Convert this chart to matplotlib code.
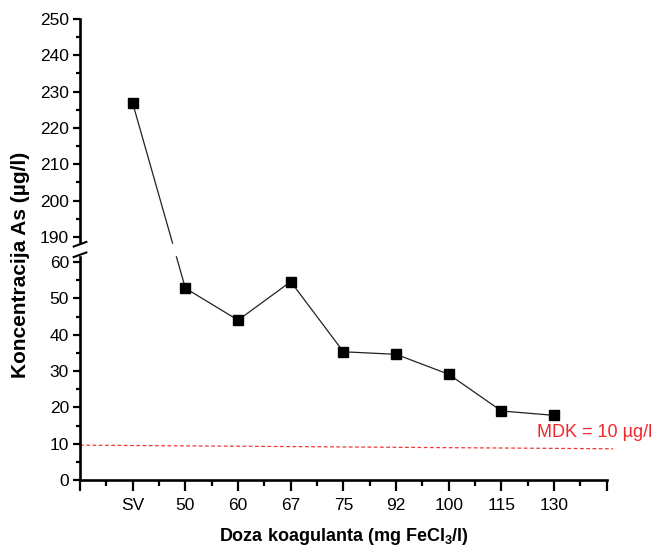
import numpy as np
import matplotlib
matplotlib.use("Agg")
import matplotlib.pyplot as plt
from matplotlib.ticker import FixedLocator, NullFormatter

plt.rcParams['font.family'] = ['Liberation Sans', 'DejaVu Sans']

# data
doses = ["SV", "50", "60", "67", "75", "92", "100", "115", "130"]
conc = [226.8, 52.8, 44.0, 54.6, 35.3, 34.6, 29.1, 19.0, 17.8]
mdk_label = "MDK = 10 µg/l"
mdk_x = [-1, 9.12]
mdk_y = [9.6, 8.6]

# broken y axis: 0-62 and 188-250, small gap between
lo_top, hi_bot, gap = 62.0, 188.0, 2.9


def fwd(y):
    y = np.asarray(y, dtype=float)
    mid = lo_top + (y - lo_top) / (hi_bot - lo_top) * gap
    return np.where(y <= lo_top, y, np.where(y >= hi_bot, y - hi_bot + lo_top + gap, mid))


def inv(t):
    t = np.asarray(t, dtype=float)
    mid = lo_top + (t - lo_top) / gap * (hi_bot - lo_top)
    return np.where(t <= lo_top, t, np.where(t >= lo_top + gap, t - lo_top - gap + hi_bot, mid))


fig = plt.figure(figsize=(6.56, 5.52), dpi=100)
ax = fig.add_axes([0.122, 0.1304, 0.803, 0.8352])
ax.set_yscale('function', functions=(fwd, inv))

x = np.arange(len(doses))
ax.plot(x, conc, color='#222222', lw=0.9, marker='s', ms=6.8,
        mfc='black', mec='black', zorder=2)

ax.plot(mdk_x, mdk_y, color='#f03a3a', lw=0.9, ls=(0, (3, 2)), clip_on=False, zorder=1)
ax.text(9.86, 13.2, mdk_label, color='#f0282d', fontsize=13,
        ha='right', va='center', clip_on=False)

ax.set_xlim(-1, 9)
ax.set_ylim(0, 250)

ax.xaxis.set_major_locator(FixedLocator(np.arange(-1, 10)))
ax.set_xticklabels([""] + doses + [""])
ax.xaxis.set_minor_locator(FixedLocator(np.arange(-0.5, 9, 1)))

ymaj = list(range(0, 61, 10)) + list(range(190, 251, 10))
ymin = list(range(5, 60, 10)) + list(range(195, 250, 10))
ax.yaxis.set_major_locator(FixedLocator(ymaj))
ax.yaxis.set_minor_locator(FixedLocator(ymin))
ax.yaxis.set_minor_formatter(NullFormatter())

for s in ['top', 'right']:
    ax.spines[s].set_visible(False)
for s in ['left', 'bottom']:
    ax.spines[s].set_linewidth(1.9)

ax.tick_params(axis='x', which='major', direction='out', length=8, width=1.6,
               labelsize=12.5, pad=5)
ax.tick_params(axis='x', which='minor', direction='out', length=4, width=1.6)
ax.tick_params(axis='y', which='major', direction='out', length=5, width=1.6,
               labelsize=12.5, pad=3)
ax.tick_params(axis='y', which='minor', direction='out', length=3, width=1.6)

ax.set_xlabel("Doza koagulanta (mg FeCl$_\\mathregular{3}$/l)", fontsize=13,
              fontweight='bold', labelpad=9)
ax.set_ylabel("Koncentracija As (µg/l)", fontsize=15, fontweight='bold')
ax.yaxis.set_label_coords(-0.095, 0.467)

# white band hiding the break, then the // marks
ax.axhspan(lo_top, hi_bot, xmin=-0.03, xmax=1.0, color='white', zorder=3,
           clip_on=False)
t0, t1 = fwd(0), fwd(250)
for v in [fwd(lo_top), fwd(hi_bot)]:
    yf = float((v - t0) / (t1 - t0))
    ax.plot([-0.012, 0.012], [yf - 0.005, yf + 0.005], transform=ax.transAxes,
            color='black', lw=1.5, clip_on=False, zorder=4)

fig.savefig("out.png", dpi=100)
